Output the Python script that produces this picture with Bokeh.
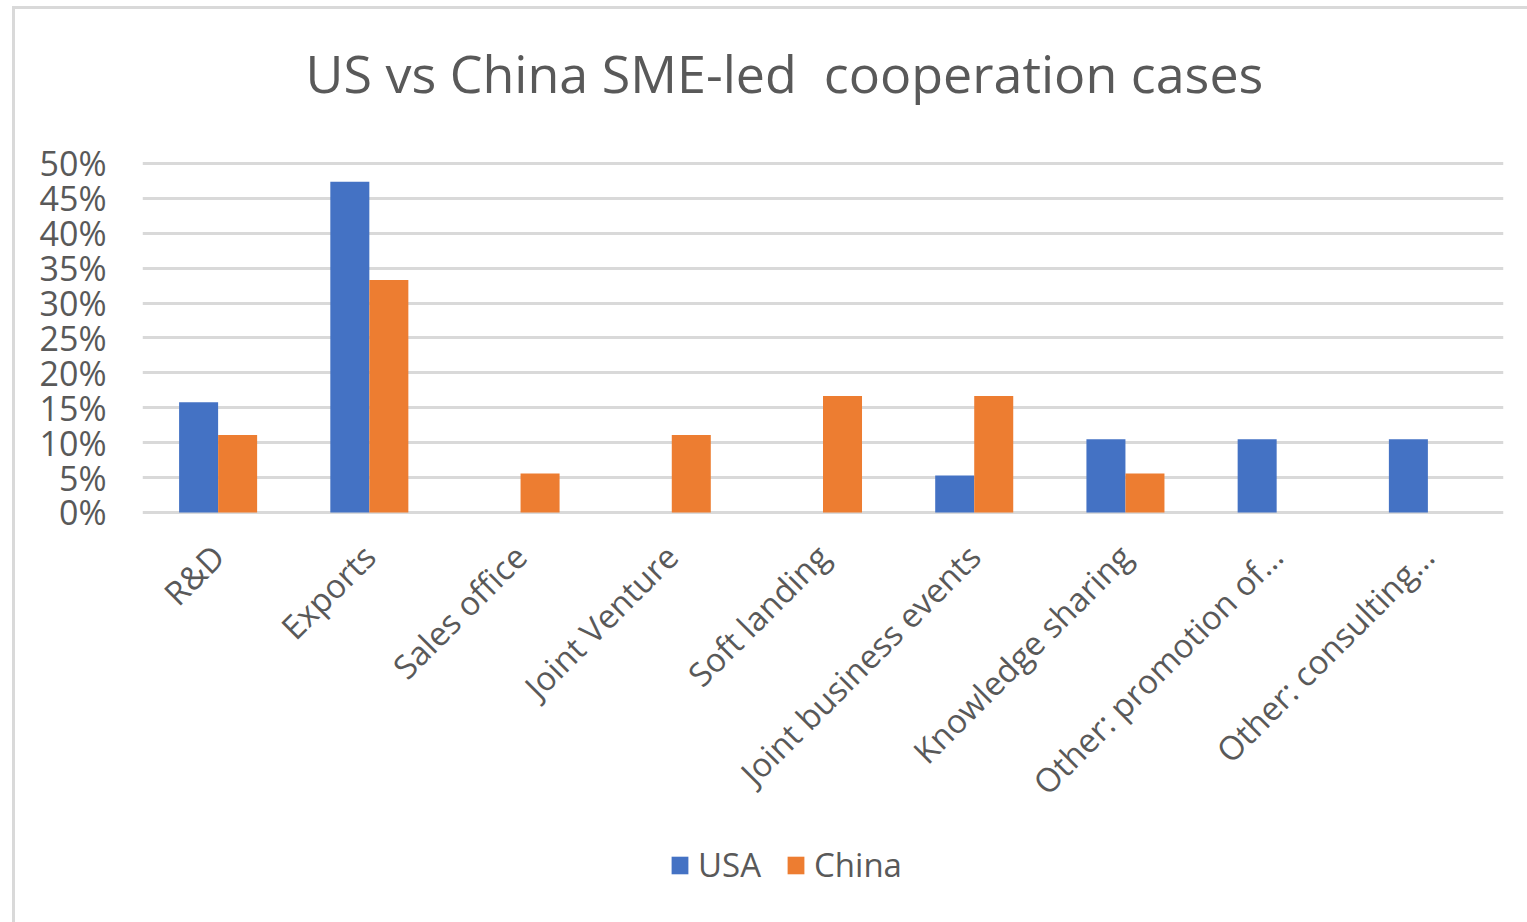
from bokeh.plotting import figure
from bokeh.models import (ColumnDataSource, FactorRange, Range1d, FixedTicker,
                          NumeralTickFormatter, Legend, LegendItem)
from bokeh.core.properties import value
from bokeh.transform import dodge
from bokeh.embed import file_html
from bokeh.resources import INLINE

categories = ["R&D", "Exports", "Sales office", "Joint Venture", "Soft landing",
              "Joint business events", "Knowledge sharing", "Other: promotion of…",
              "Other: consulting…"]
usa = [0.158, 0.474, 0.0, 0.0, 0.0, 0.053, 0.105, 0.105, 0.105]
china = [0.111, 0.333, 0.056, 0.111, 0.167, 0.167, 0.056, 0.0, 0.0]
y_ticks = [0.0, 0.05, 0.10, 0.15, 0.20, 0.25, 0.30, 0.35, 0.40, 0.45, 0.50]
title_text = "US vs China SME-led\u00a0 cooperation cases"

FONT = "Open Sans"
TXT = "#595959"
GRID = "#d9d9d9"

# frame extends below the value axis so the slanted category labels and the
# legend can live inside the plotting area
Y_TOP, Y_BOTTOM = 0.5444, -0.5874
LABEL_Y = -0.0544

src = ColumnDataSource(dict(cat=categories, usa=usa, china=china,
                            label_y=[LABEL_Y] * len(categories)))

p = figure(x_range=FactorRange(*categories), y_range=Range1d(Y_BOTTOM, Y_TOP),
           frame_width=1361, frame_height=790, output_backend="svg",
           toolbar_location=None, title=title_text, x_axis_location=None,
           min_border_left=127, min_border_right=24, min_border_top=0,
           min_border_bottom=0, margin=(6, 0, 0, 12))
p.styles = {"border-left": "3px solid #d9d9d9", "border-top": "3px solid #d9d9d9"}
p.outline_line_color = None

p.title.text_font = FONT
p.title.text_font_size = "52px"
p.title.text_font_style = "normal"
p.title.text_color = TXT
p.title.align = "left"
p.title.offset = 163
p.title.standoff = 50

bw = 0.258
r_usa = p.vbar(x=dodge("cat", -bw / 2, range=p.x_range), top="usa", width=bw,
               source=src, fill_color="#4472C4", line_color=None)
r_china = p.vbar(x=dodge("cat", bw / 2, range=p.x_range), top="china", width=bw,
                 source=src, fill_color="#ED7D31", line_color=None)

p.text(x="cat", y="label_y", text="cat", source=src, angle=0.785398,
       text_align="right", text_baseline="middle", text_font=value(FONT),
       text_font_size="33px", text_color=TXT)

p.xgrid.grid_line_color = None
p.ygrid.grid_line_color = GRID
p.ygrid.grid_line_width = 3
p.ygrid.level = "underlay"

p.yaxis.ticker = FixedTicker(ticks=y_ticks)
p.yaxis.formatter = NumeralTickFormatter(format="0%")
p.yaxis.axis_line_color = None
p.yaxis.major_tick_line_color = None
p.yaxis.minor_tick_line_color = None
p.yaxis.major_label_text_font = FONT
p.yaxis.major_label_text_color = TXT
p.yaxis.major_label_text_font_size = "34px"
p.yaxis.major_label_standoff = 30

legend = Legend(items=[LegendItem(label="USA", renderers=[r_usa]),
                       LegendItem(label="China", renderers=[r_china])],
                orientation="horizontal", location=(527, 35))
legend.label_text_font = FONT
legend.label_text_font_size = "33px"
legend.label_text_color = TXT
legend.glyph_width = 21
legend.glyph_height = 22
legend.label_standoff = 8
legend.spacing = 24
legend.border_line_color = None
legend.background_fill_alpha = 0
legend.padding = 0
legend.margin = 0
p.add_layout(legend, "center")

open("out.html", "w").write(file_html(p, INLINE))
